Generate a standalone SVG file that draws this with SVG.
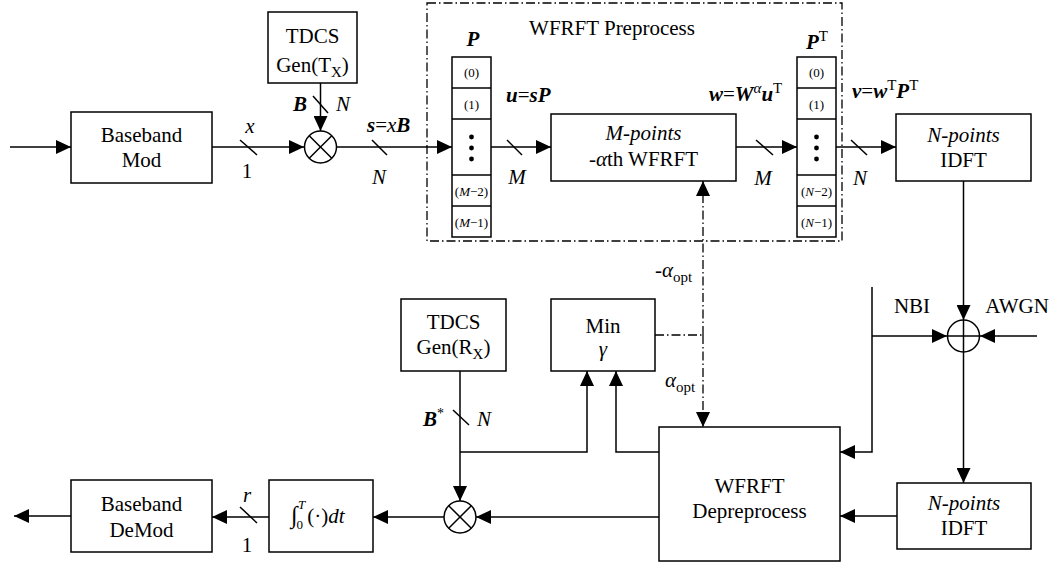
<svg xmlns="http://www.w3.org/2000/svg" width="1052" height="563" viewBox="0 0 1052 563" font-family="Liberation Serif, DejaVu Serif, serif">
<defs>
<marker id="ah" viewBox="0 0 15 14" refX="15" refY="7" markerWidth="15" markerHeight="14" markerUnits="userSpaceOnUse" orient="auto"><path d="M0,0 L15,7 L0,14 z" fill="#000"/></marker>
</defs>
<style>
.box{fill:#fff;stroke:#000;stroke-width:1.5}
.ln{fill:none;stroke:#000;stroke-width:1.5}
.arr{fill:none;stroke:#000;stroke-width:1.5;marker-end:url(#ah)}
.dd{fill:none;stroke:#000;stroke-width:1.3;stroke-dasharray:9,3,1.5,3}
.t{font-family:'Liberation Serif','DejaVu Serif',serif;font-size:21px;fill:#000}
.c{text-anchor:middle}
.i{font-style:italic}
.bi{font-style:italic;font-weight:bold}
.sm{font-size:13px}
</style>
<rect width="1052" height="563" fill="#fff"/>

<g id="preprocess-frame">
<rect x="427" y="3" width="415" height="238" class="dd"/>
<text x="612" y="35" class="t c">WFRFT Preprocess</text>
</g>

<g id="connectors">
<line x1="10" y1="147" x2="71" y2="147" class="arr"/>
<line x1="212" y1="147" x2="304" y2="147" class="arr"/>
<line x1="320.5" y1="83" x2="320.5" y2="131" class="arr"/>
<line x1="337" y1="147" x2="452" y2="147" class="arr"/>
<line x1="491" y1="147" x2="551" y2="147" class="arr"/>
<line x1="736" y1="147" x2="797" y2="147" class="arr"/>
<line x1="836" y1="147" x2="896" y2="147" class="arr"/>
<line x1="963.5" y1="181" x2="963.5" y2="320" class="arr"/>
<line x1="1037" y1="336" x2="980" y2="336" class="arr"/>
<polyline points="872,287 872,452 840,452" class="arr"/>
<line x1="872" y1="336" x2="947" y2="336" class="arr"/>
<line x1="963.5" y1="352" x2="963.5" y2="483" class="arr"/>
<line x1="897" y1="516" x2="840" y2="516" class="arr"/>
<line x1="659" y1="517" x2="476" y2="517" class="arr"/>
<line x1="444" y1="517" x2="373" y2="517" class="arr"/>
<line x1="269" y1="517" x2="212" y2="517" class="arr"/>
<line x1="71" y1="516" x2="14" y2="516" class="arr"/>
<line x1="460" y1="371" x2="460" y2="501" class="arr"/>
<polyline points="460,452 587,452 587,371" class="arr"/>
<polyline points="659,452 616,452 616,371" class="arr"/>
<line x1="655" y1="335" x2="703" y2="335" class="dd"/>
<line x1="703" y1="335" x2="703" y2="181" class="dd" marker-end="url(#ah)"/>
<line x1="703" y1="335" x2="703" y2="427" class="dd" marker-end="url(#ah)"/>
<line x1="240" y1="140" x2="257" y2="155" class="ln"/>
<line x1="372" y1="140" x2="387" y2="155" class="ln"/>
<line x1="507" y1="140" x2="522" y2="155" class="ln"/>
<line x1="756" y1="140" x2="773" y2="155" class="ln"/>
<line x1="851" y1="140" x2="867" y2="155" class="ln"/>
<line x1="313" y1="96" x2="328" y2="113" class="ln"/>
<line x1="453" y1="410" x2="469" y2="425" class="ln"/>
<line x1="240" y1="507" x2="257" y2="523" class="ln"/>
</g>

<g id="baseband-mod">
<rect x="71" y="112" width="141" height="71" class="box"/>
<text x="141.5" y="142" class="t c">Baseband</text>
<text x="141.5" y="167" class="t c">Mod</text>
</g>

<g id="tdcs-tx">
<rect x="268" y="12" width="89" height="71" class="box"/>
<text x="312.5" y="43" class="t c">TDCS</text>
<text x="312.5" y="72" class="t c">Gen(T<tspan dy="5" font-size="15">X</tspan><tspan dy="-5">)</tspan></text>
</g>

<g id="mixer-tx">
<circle cx="320.5" cy="147" r="16" class="box"/>
<line x1="309.2" y1="135.7" x2="331.8" y2="158.3" class="ln"/>
<line x1="331.8" y1="135.7" x2="309.2" y2="158.3" class="ln"/>
</g>

<g id="perm-p">
<rect x="452" y="57" width="39" height="180" class="box"/>
<line x1="452" y1="88" x2="491" y2="88" class="ln"/>
<line x1="452" y1="119" x2="491" y2="119" class="ln"/>
<line x1="452" y1="175" x2="491" y2="175" class="ln"/>
<line x1="452" y1="206" x2="491" y2="206" class="ln"/>
<text x="471.5" y="77" class="t c sm">(0)</text>
<text x="471.5" y="109" class="t c sm">(1)</text>
<circle cx="471.5" cy="137" r="2.4"/>
<circle cx="471.5" cy="148" r="2.4"/>
<circle cx="471.5" cy="159" r="2.4"/>
<text x="471.5" y="196" class="t c sm">(<tspan class="i">M</tspan>−2)</text>
<text x="471.5" y="227" class="t c sm">(<tspan class="i">M</tspan>−1)</text>
<text x="473" y="46" class="t c bi">P</text>
</g>

<g id="wfrft">
<rect x="551" y="114" width="185" height="67" class="box"/>
<text x="643.5" y="140" class="t c i">M-points</text>
<text x="643.5" y="166" class="t c">-<tspan class="i">α</tspan>th WFRFT</text>
</g>

<g id="perm-pt">
<rect x="797" y="57" width="39" height="180" class="box"/>
<line x1="797" y1="88" x2="836" y2="88" class="ln"/>
<line x1="797" y1="119" x2="836" y2="119" class="ln"/>
<line x1="797" y1="175" x2="836" y2="175" class="ln"/>
<line x1="797" y1="206" x2="836" y2="206" class="ln"/>
<text x="816.5" y="77" class="t c sm">(0)</text>
<text x="816.5" y="109" class="t c sm">(1)</text>
<circle cx="816.5" cy="137" r="2.4"/>
<circle cx="816.5" cy="148" r="2.4"/>
<circle cx="816.5" cy="159" r="2.4"/>
<text x="816.5" y="196" class="t c sm">(<tspan class="i">N</tspan>−2)</text>
<text x="816.5" y="227" class="t c sm">(<tspan class="i">N</tspan>−1)</text>
<text x="806" y="49" class="t"><tspan class="bi">P</tspan><tspan dy="-8" font-size="15">T</tspan></text>
</g>

<g id="idft-tx">
<rect x="896" y="114" width="135" height="67" class="box"/>
<text x="963.5" y="142" class="t c i">N-points</text>
<text x="963.5" y="167" class="t c">IDFT</text>
</g>

<g id="adder">
<circle cx="963.5" cy="336" r="16" class="box"/>
<line x1="947.5" y1="336" x2="979.5" y2="336" class="ln"/>
<line x1="963.5" y1="320" x2="963.5" y2="352" class="ln"/>
</g>

<g id="idft-rx">
<rect x="897" y="483" width="134" height="66" class="box"/>
<text x="964" y="510" class="t c i">N-points</text>
<text x="964" y="535" class="t c">IDFT</text>
</g>

<g id="depreprocess">
<rect x="659" y="427" width="181" height="134" class="box"/>
<text x="749.5" y="493" class="t c">WFRFT</text>
<text x="749.5" y="518" class="t c">Depreprocess</text>
</g>

<g id="min-gamma">
<rect x="551" y="299" width="104" height="72" class="box"/>
<text x="603" y="333" class="t c">Min</text>
<text x="603" y="356" class="t c i">γ</text>
</g>

<g id="tdcs-rx">
<rect x="401" y="299" width="105" height="72" class="box"/>
<text x="453.5" y="329" class="t c">TDCS</text>
<text x="453.5" y="354" class="t c">Gen(R<tspan dy="5" font-size="15">X</tspan><tspan dy="-5">)</tspan></text>
</g>

<g id="mixer-rx">
<circle cx="460" cy="517" r="16" class="box"/>
<line x1="448.7" y1="505.7" x2="471.3" y2="528.3" class="ln"/>
<line x1="471.3" y1="505.7" x2="448.7" y2="528.3" class="ln"/>
</g>

<g id="integrator">
<rect x="269" y="480" width="104" height="72" class="box"/>
<text x="291" y="523" class="t"><tspan font-size="24">∫</tspan><tspan dx="-1" dy="6" font-size="13">0</tspan><tspan dx="-5" dy="-20" font-size="13" class="i">T</tspan><tspan dx="2" dy="14">(·)</tspan><tspan class="i">dt</tspan></text>
</g>

<g id="baseband-demod">
<rect x="71" y="480" width="141" height="72" class="box"/>
<text x="141.5" y="511" class="t c">Baseband</text>
<text x="141.5" y="537" class="t c">DeMod</text>
</g>

<g id="labels">
<text x="250" y="133" class="t c i">x</text>
<text x="247" y="178" class="t c">1</text>
<text x="300" y="111" class="t c bi">B</text>
<text x="343" y="111" class="t c i">N</text>
<text x="367" y="132" class="t"><tspan class="bi">s</tspan>=<tspan class="i">x</tspan><tspan class="bi">B</tspan></text>
<text x="379" y="184" class="t c i">N</text>
<text x="506" y="102" class="t"><tspan class="bi">u</tspan>=<tspan class="bi">sP</tspan></text>
<text x="517" y="184" class="t c i">M</text>
<text x="709" y="101" class="t"><tspan class="bi">w</tspan>=<tspan class="bi">W</tspan><tspan dy="-8" font-size="15" class="i">α</tspan><tspan dy="8" class="bi">u</tspan><tspan dy="-8" font-size="15">T</tspan></text>
<text x="763" y="185" class="t c i">M</text>
<text x="852" y="98" class="t"><tspan class="bi">v</tspan>=<tspan class="bi">w</tspan><tspan dy="-8" font-size="15">T</tspan><tspan dy="8" class="bi">P</tspan><tspan dy="-8" font-size="15">T</tspan></text>
<text x="860" y="185" class="t c i">N</text>
<text x="655" y="277" class="t">-<tspan class="i">α</tspan><tspan dy="5" font-size="15">opt</tspan></text>
<text x="665" y="387" class="t"><tspan class="i">α</tspan><tspan dy="5" font-size="15">opt</tspan></text>
<text x="423" y="426" class="t"><tspan class="bi">B</tspan><tspan dy="-8" font-size="14">*</tspan></text>
<text x="484" y="426" class="t c i">N</text>
<text x="912" y="313" class="t c">NBI</text>
<text x="1017" y="313" class="t c">AWGN</text>
<text x="247" y="502" class="t c i">r</text>
<text x="247" y="552" class="t c">1</text>
</g>
</svg>
